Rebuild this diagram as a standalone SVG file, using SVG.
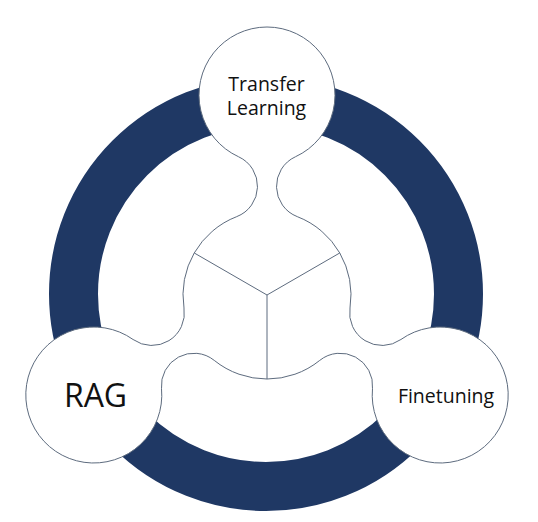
<svg xmlns="http://www.w3.org/2000/svg" width="538" height="522" viewBox="0 0 538 522">
  <style>
    .ring { fill: none; stroke: #1f3864; stroke-width: 49; }
    .blob { fill: #ffffff; stroke: #5d6b7e; stroke-width: 1; }
    .link { fill: none; stroke: #5d6b7e; stroke-width: 1; }
    .lbl { font-family: "Open Sans", "Noto Sans", "Liberation Sans", sans-serif; fill: #111111; text-anchor: middle; }
  </style>
  <rect x="0" y="0" width="538" height="522" fill="#ffffff"/>
  <g id="ring">
    <circle class="ring" cx="266" cy="294" r="192.5"/>
  </g>
  <g id="hub">
    <path class="blob" d="M 297.28,216.63 A 84 84 0 0 1 350.01,307.97 A 32.5 32.5 0 0 0 400.91,339.50 A 68 68 0 1 1 372.49,388.72 A 32.5 32.5 0 0 0 319.73,360.41 A 84 84 0 0 1 214.27,360.41 A 32.5 32.5 0 0 0 161.51,388.72 A 68 68 0 1 1 133.09,339.50 A 32.5 32.5 0 0 0 183.99,307.97 A 84 84 0 0 1 236.72,216.63 A 32.5 32.5 0 0 0 238.58,156.78 A 68 68 0 1 1 295.42,156.78 A 32.5 32.5 0 0 0 297.28,216.63 Z"/>
  </g>
  <g id="connectors">
    <line class="link" x1="267" y1="295" x2="194.3" y2="253"/>
    <line class="link" x1="267" y1="295" x2="339.7" y2="253"/>
    <line class="link" x1="267" y1="295" x2="267" y2="379"/>
  </g>
  <g id="node-transfer-learning">
    <text class="lbl" x="266.5" y="90.5" font-size="19.5">Transfer</text>
    <text class="lbl" x="266.5" y="115" font-size="19.5">Learning</text>
  </g>
  <g id="node-rag">
    <text class="lbl" x="95.5" y="406.5" font-size="32">RAG</text>
  </g>
  <g id="node-finetuning">
    <text class="lbl" x="446" y="403.3" font-size="19.5">Finetuning</text>
  </g>
</svg>
